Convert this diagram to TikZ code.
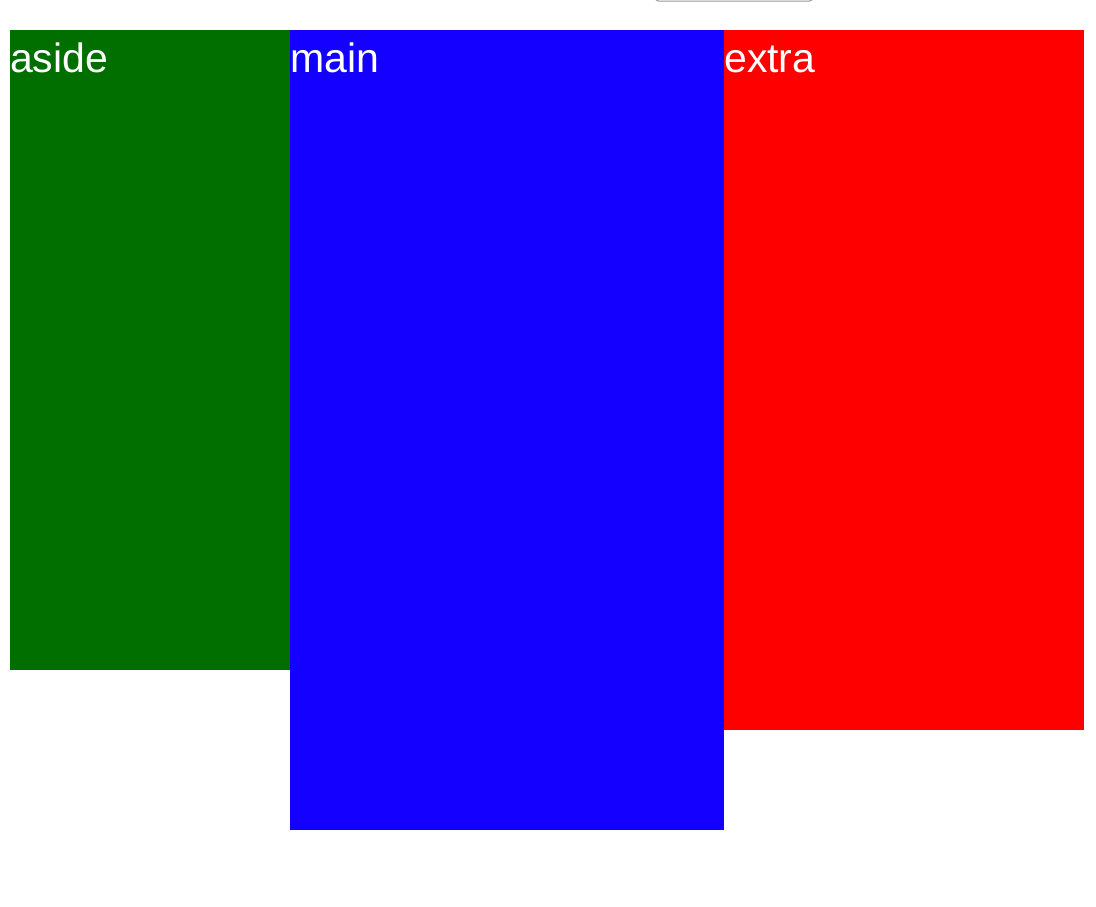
\documentclass[tikz,border=0pt]{standalone}
\usepackage{fontspec}
\setmainfont{Liberation Sans}
\definecolor{asidegreen}{RGB}{0,111,0}
\definecolor{mainblue}{RGB}{20,0,255}
\definecolor{extrared}{RGB}{255,0,0}
\definecolor{btngray}{RGB}{150,150,150}
\tikzset{
  panel/.style={inner sep=0pt, outer sep=0pt, anchor=north west},
  label/.style={text=white, font=\fontsize{41}{47}\selectfont, inner sep=0pt, anchor=base west},
}
\begin{document}
\begin{tikzpicture}[x=1pt,y=-1pt]
\useasboundingbox (0,0) rectangle (1096,906);
\fill[white] (0,0) rectangle (1096,906);
\begin{scope}
\clip (0,0) rectangle (1096,906);
\node[draw=btngray, line width=1pt, fill=white, rounded corners=3pt, minimum width=157pt, minimum height=24pt, inner sep=0pt, anchor=south west] (btn) at (655,1.5) {};
\end{scope}
\node[panel, fill=asidegreen, minimum width=280pt, minimum height=640pt] (aside) at (10,30) {};
\node[panel, fill=mainblue, minimum width=434pt, minimum height=800pt] (main) at (290,30) {};
\node[panel, fill=extrared, minimum width=360pt, minimum height=700pt] (extra) at (724,30) {};
\node[label] (asidetxt) at (10,72) {aside};
\node[label] (maintxt) at (290,72) {main};
\node[label] (extratxt) at (724,72) {extra};
\end{tikzpicture}
\end{document}
